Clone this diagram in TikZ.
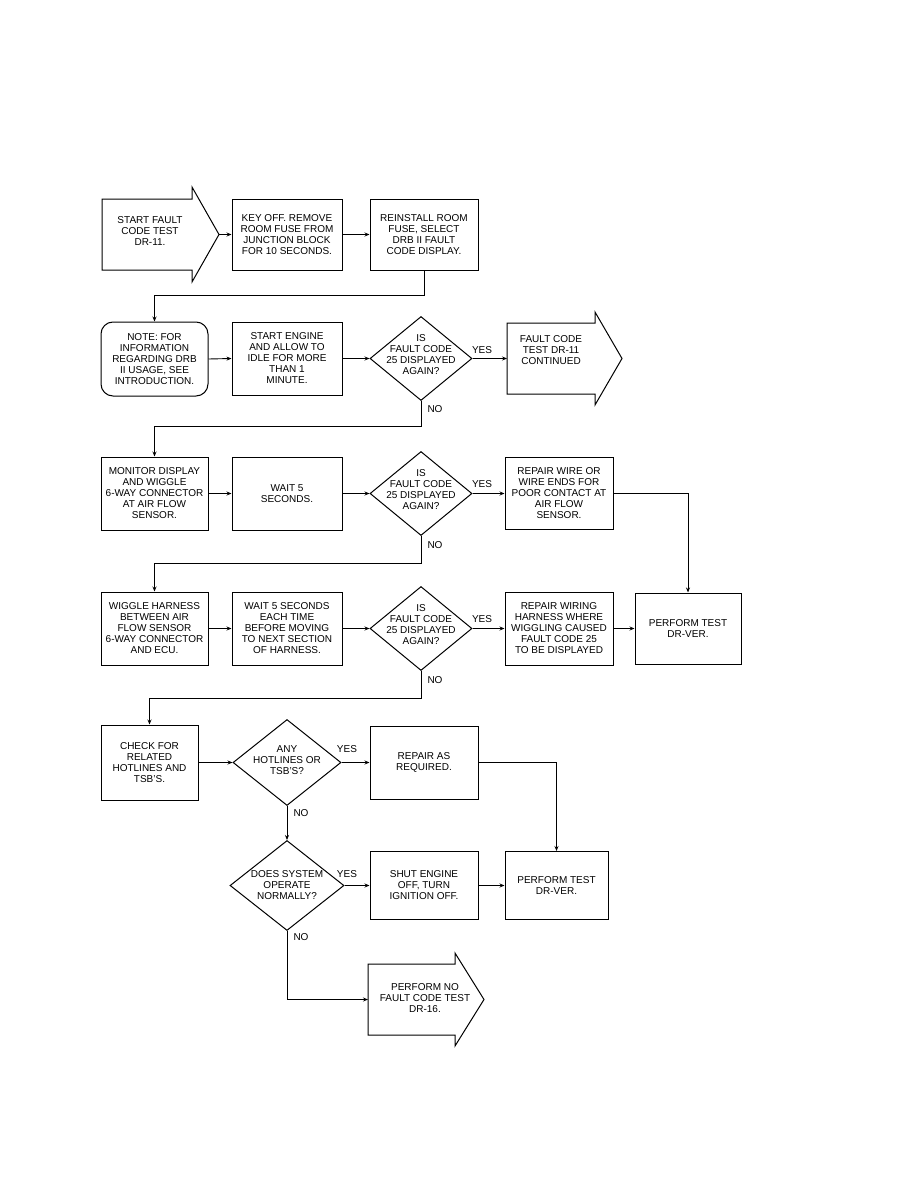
\documentclass[tikz,border=0pt]{standalone}
\usepackage{fontspec}
\setmainfont{Liberation Sans}
\usetikzlibrary{shapes.geometric,arrows.meta}
\newcommand{\flowfont}{\fontsize{10}{11}\selectfont}
\tikzset{
	flowbox/.style={draw, line width=1pt, minimum width=108pt, minimum height=72pt, inner sep=2pt, align=center, font=\flowfont},
	askbox/.style={draw, diamond, line width=1pt, inner sep=0pt},
	asktext/.style={align=center, font=\flowfont, inner sep=0pt, yshift=4pt},
	fatarrow/.style={draw, line width=1pt, line join=miter},
	link/.style={line width=0.9pt, -{Stealth[length=5pt,width=4pt]}},
	tag/.style={font=\flowfont, inner sep=1pt}
}
\begin{document}
\begin{tikzpicture}[x=1pt, y=-1pt]
		\useasboundingbox (0,0) rectangle (918,1188);
		%%%%% START %%%%%
		
		\draw[fatarrow] (102,199) -- (192,199) -- (192,187) -- (219,234.5) -- (192,282) -- (192,270) -- (102,270) -- cycle;
		\node[align=center, font=\flowfont] (start) at (150,231) {START FAULT\\CODE TEST\\DR-11.};
		\coordinate (starttip) at (219,234.5);
		\node[flowbox, minimum width=110pt, minimum height=71pt] (keyoff) at (287,234.5) {KEY OFF. REMOVE\\ROOM FUSE FROM\\JUNCTION BLOCK\\FOR 10 SECONDS.};
		\node[flowbox, minimum height=71pt] (reinstall) at (424,234.5) {REINSTALL ROOM\\FUSE, SELECT\\DRB II FAULT\\CODE DISPLAY.};
		
		\node[flowbox, rounded corners=12pt, minimum width=107pt, minimum height=74pt] (note) at (154.5,359) {NOTE: FOR\\INFORMATION\\REGARDING DRB\\II USAGE, SEE\\INTRODUCTION.};
		\node[flowbox, minimum width=110pt, minimum height=73pt] (engine) at (287,358.5) {START ENGINE\\AND ALLOW TO\\IDLE FOR MORE\\THAN 1\\MINUTE.};
		\node[askbox, minimum width=102pt, minimum height=84pt, label={[asktext]center:{IS\\FAULT CODE\\25 DISPLAYED\\AGAIN?}}] (ask1) at (421,358.5) {};
		\draw[fatarrow] (507,323) -- (595,323) -- (595,312) -- (622,358.5) -- (595,405) -- (595,394) -- (507,394) -- cycle;
		\node[align=center, font=\flowfont] (cont) at (551,350) {FAULT CODE\\TEST DR-11\\CONTINUED};
		\coordinate (contin) at (507,358.5);
		
		\node[flowbox, minimum width=107pt, minimum height=73pt] (monitor) at (154.5,493.5) {MONITOR DISPLAY\\AND WIGGLE\\6-WAY CONNECTOR\\AT AIR FLOW\\SENSOR.};
		\node[flowbox, minimum width=110pt, minimum height=73pt] (waitone) at (287,493.5) {WAIT 5\\SECONDS.};
		\node[askbox, minimum width=102pt, minimum height=84pt, label={[asktext]center:{IS\\FAULT CODE\\25 DISPLAYED\\AGAIN?}}] (ask2) at (421,493.5) {};
		\node[flowbox] (repwire) at (559,493.5) {REPAIR WIRE OR\\WIRE ENDS FOR\\POOR CONTACT AT\\AIR FLOW\\SENSOR.};
		
		\node[flowbox, minimum width=107pt, minimum height=73pt] (wiggle) at (154.5,628.5) {WIGGLE HARNESS\\BETWEEN AIR\\FLOW SENSOR\\6-WAY CONNECTOR\\AND ECU.};
		\node[flowbox, minimum width=110pt, minimum height=73pt] (waittwo) at (287,628.5) {WAIT 5 SECONDS\\EACH TIME\\BEFORE MOVING\\TO NEXT SECTION\\OF HARNESS.};
		\node[askbox, minimum width=102pt, minimum height=84pt, label={[asktext]center:{IS\\FAULT CODE\\25 DISPLAYED\\AGAIN?}}] (ask3) at (421,628.5) {};
		\node[flowbox, minimum height=73pt] (repharness) at (559,628.5) {REPAIR WIRING\\HARNESS WHERE\\WIGGLING CAUSED\\FAULT CODE 25\\TO BE DISPLAYED};
		\node[flowbox, minimum width=106pt, minimum height=71pt] (perfone) at (688,628.5) {PERFORM TEST\\DR-VER.};
		
		\node[flowbox, minimum width=97pt, minimum height=75pt] (check) at (149.5,762.5) {CHECK FOR\\RELATED\\HOTLINES AND\\TSB'S.};
		\node[askbox, minimum width=108pt, minimum height=86pt, label={[asktext, yshift=-2pt]center:{ANY\\HOTLINES OR\\TSB'S?}}] (ask4) at (287,762.5) {};
		\node[flowbox, minimum height=73pt] (repreq) at (424,762.5) {REPAIR AS\\REQUIRED.};
		
		\node[askbox, minimum width=114pt, minimum height=90pt, label={[asktext, yshift=-4pt]center:{DOES SYSTEM\\OPERATE\\NORMALLY?}}] (ask5) at (287,885.5) {};
		\node[flowbox, minimum height=68pt] (shut) at (424,885.5) {SHUT ENGINE\\OFF, TURN\\IGNITION OFF.};
		\node[flowbox, minimum width=103pt, minimum height=68pt] (perftwo) at (556.5,885.5) {PERFORM TEST\\DR-VER.};
		
		\draw[fatarrow] (368,964) -- (455,964) -- (455,953) -- (484,999.5) -- (455,1046) -- (455,1035) -- (368,1035) -- cycle;
		\node[align=center, font=\flowfont] (nofault) at (425,998) {PERFORM NO\\FAULT CODE TEST\\DR-16.};
		\coordinate (nfin) at (368,999.5);
		
		% connectors
		\draw[link] (starttip) -- (keyoff.west);
		\draw[link] (keyoff.east) -- (reinstall.west);
		\draw[link] (reinstall.south) -- ++(0,25) -| (note.north);
		\draw[link] (note.east) -- (engine.west);
		\draw[link] (engine.east) -- (ask1.west);
		\draw[link] (ask1.east) -- (contin);
		\draw[link] (ask1.south) -- ++(0,25) -| (monitor.north);
		\draw[link] (monitor.east) -- (waitone.west);
		\draw[link] (waitone.east) -- (ask2.west);
		\draw[link] (ask2.east) -- (repwire.west);
		\draw[link] (repwire.east) -| (perfone.north);
		\draw[link] (ask2.south) -- ++(0,27) -| (wiggle.north);
		\draw[link] (wiggle.east) -- (waittwo.west);
		\draw[link] (waittwo.east) -- (ask3.west);
		\draw[link] (ask3.east) -- (repharness.west);
		\draw[link] (repharness.east) -- (perfone.west);
		\draw[link] (ask3.south) -- ++(0,27) -| (check.north);
		\draw[link] (check.east) -- (ask4.west);
		\draw[link] (ask4.east) -- (repreq.west);
		\draw[link] (repreq.east) -| (perftwo.north);
		\draw[link] (ask4.south) -- (ask5.north);
		\draw[link] (ask5.east) -- (shut.west);
		\draw[link] (shut.east) -- (perftwo.west);
		\draw[link] (ask5.south) |- (nfin);
		
		\node[tag] (yes1) at (482,350) {YES};
		\node[tag] (no1) at (435,409) {NO};
		\node[tag] (yes2) at (482,484) {YES};
		\node[tag] (no2) at (435,545) {NO};
		\node[tag] (yes3) at (482,619) {YES};
		\node[tag] (no3) at (435,680) {NO};
		\node[tag] (yes4) at (347,749) {YES};
		\node[tag] (no4) at (301,813) {NO};
		\node[tag] (yes5) at (347,874) {YES};
		\node[tag] (no5) at (301,937) {NO};
		
		%%%%% END %%%%%
\end{tikzpicture}
\end{document}
